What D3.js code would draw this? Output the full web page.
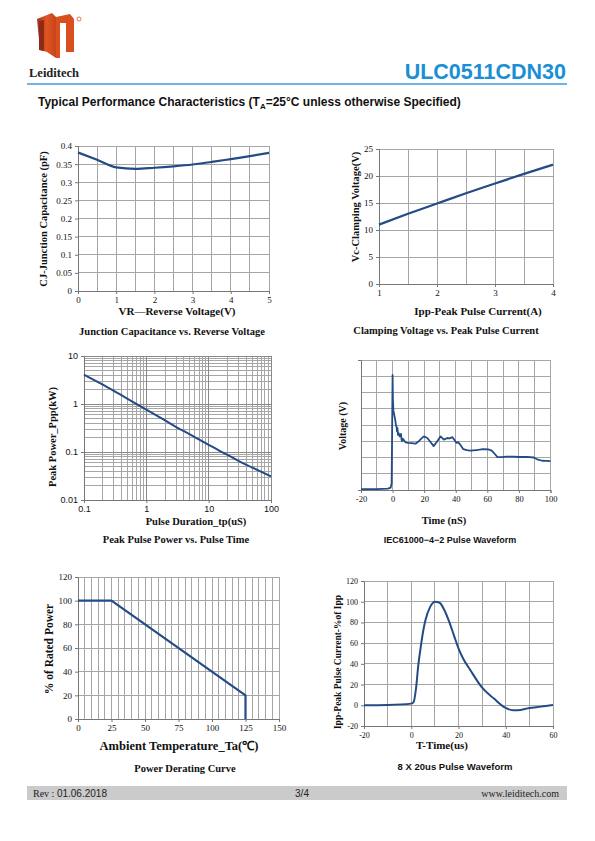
<!DOCTYPE html>
<html><head><meta charset="utf-8">
<script src="https://cdn.jsdelivr.net/npm/d3@7"></script>
<style>
body{margin:0;background:#fff;}
svg{display:block;}
.serif{font-family:"Liberation Serif","Times New Roman",serif;}
.sans{font-family:"Liberation Sans",Arial,sans-serif;}
</style></head>
<body>
<svg id="page" width="595" height="841"></svg>
<script>
// ---------------- DATA ----------------
// Chart 1: Junction capacitance vs reverse voltage
const capVoltage = [0, 0.5, 1, 1.5, 2, 2.5, 3, 3.5, 4, 4.5, 5];
const capValue   = [0.382, 0.362, 0.341, 0.337, 0.340, 0.344, 0.349, 0.356, 0.364, 0.372, 0.381];
const capXTicks = [0, 1, 2, 3, 4, 5];
const capYTicks = [0, 0.05, 0.1, 0.15, 0.2, 0.25, 0.3, 0.35, 0.4];

// Chart 2: Clamping voltage vs peak pulse current
const clampCurrent = [1, 1.5, 2, 2.5, 3, 3.5, 4];
const clampVoltage = [11.0, 13.0, 14.9, 16.8, 18.6, 20.4, 22.1];
const clampXTicks = [1, 2, 3, 4];
const clampYTicks = [0, 5, 10, 15, 20, 25];

// Chart 3: Peak pulse power vs pulse time (log-log)
const pulseTime  = [0.1, 0.2, 0.316, 0.5, 1, 2, 3.16, 5, 10, 20, 31.6, 50, 100];
const pulsePower = [4.1, 2.52, 1.82, 1.28, 0.76, 0.454, 0.32, 0.233, 0.14, 0.087, 0.063, 0.0475, 0.031];
const ppXTicks = [0.1, 1, 10, 100];
const ppYTicks = [0.01, 0.1, 1, 10];

// Chart 4: IEC61000-4-2 pulse waveform (arbitrary voltage units, 8 grid divisions)
const esdTime  = [-20, -10, -3, -1.2, -0.6, -0.3, 0, 0.2, 0.5, 0.9, 1.3, 1.7, 2.1, 2.5, 2.8, 3.1, 3.4, 3.8, 4.5, 5.0, 5.3, 5.7, 6.0, 6.5, 7.0, 8.0, 9.0, 10, 12, 14.5, 16.6, 18, 19.8, 22, 24, 26, 28.3, 30.4, 32.5, 34.7, 36, 37.9, 39.4, 40.4, 41.5, 43, 44.7, 47, 49, 51, 53.2, 55, 57.4, 60.6, 62.8, 64.9, 66.4, 69.1, 72, 76.6, 80, 85, 89.4, 91.5, 94.7, 97, 100];
const esdVolt  = [0.05, 0.06, 0.08, 0.15, 0.4, 3.5, 7.08, 5.6, 4.9, 4.7, 4.5, 4.3, 4.0, 3.9, 3.6, 3.8, 3.4, 3.5, 3.3, 3.35, 3.45, 3.1, 3.0, 3.15, 3.1, 2.95, 2.92, 2.9, 2.88, 2.85, 3.0, 3.15, 3.3, 3.2, 2.95, 2.7, 3.0, 3.3, 3.1, 3.2, 3.18, 3.25, 3.05, 2.9, 2.95, 2.77, 2.52, 2.45, 2.42, 2.44, 2.46, 2.48, 2.52, 2.5, 2.42, 2.2, 2.02, 2.02, 2.05, 2.05, 2.03, 2.04, 2.0, 1.89, 1.8, 1.79, 1.78];
const esdXTicks = [-20, 0, 20, 40, 60, 80, 100];

// Chart 5: Power derating curve
const derateTemp  = [0, 25, 125, 125];
const deratePower = [100, 100, 20, 0];
const derateXTicks = [0, 25, 50, 75, 100, 125, 150];
const derateYTicks = [0, 20, 40, 60, 80, 100, 120];

// Chart 6: 8 x 20us pulse waveform
const surgeTime    = [-20, -10, 0, 1, 2, 3, 4, 5, 6, 8, 10, 12, 14, 16, 18, 20, 22, 25, 30, 35, 40, 43, 45, 50, 55, 60];
const surgeCurrent = [0, 0.3, 1.6, 3, 16, 39, 56, 71, 82, 95, 100, 99, 92, 81, 68, 55, 45, 34, 17, 6.5, -2.6, -4.8, -4.8, -2.6, -1.3, 0.3];
const surgeXTicks = [-20, 0, 20, 40, 60];
const surgeYTicks = [-20, 0, 20, 40, 60, 80, 100, 120];

// ---------------- DRAW ----------------
const svg = d3.select("#page");
const LINE = "#234b85";
const GRID = "#a6a6a6";

// Header
const logo = svg.append("g");
const grad = svg.append("defs").append("linearGradient").attr("id","lg").attr("x1","0").attr("x2","1");
grad.append("stop").attr("offset","0").attr("stop-color","#a8321e");
grad.append("stop").attr("offset","0.5").attr("stop-color","#e0551f");
grad.append("stop").attr("offset","1").attr("stop-color","#c9421c");
logo.append("path").attr("fill","url(#lg)")
  .attr("d","M37,19 L52,13 L56,17 L56,58 L47,52 L40,50 Z");
logo.append("path").attr("fill","#d9501e")
  .attr("d","M56,17 L70,14 L74,19 L74,52 L66,52 L66,23 L60,23 L60,58 L56,58 Z");
logo.append("path").attr("fill","#8e2a18").attr("d","M39,21 L44,20 L44,51 L39,50 Z");
logo.append("circle").attr("cx",79).attr("cy",19).attr("r",2).attr("fill","none").attr("stroke","#e0551f").attr("stroke-width",0.8);
svg.append("text").attr("class","serif").attr("x",29).attr("y",77).attr("font-size",12.5).attr("font-weight","bold").attr("fill","#222").text("Leiditech");
svg.append("text").attr("class","sans").attr("x",566).attr("y",78.5).attr("text-anchor","end")
  .attr("font-size",21.5).attr("font-weight","bold").attr("fill","#1a8fd3").text("ULC0511CDN30");
svg.append("line").attr("x1",27).attr("x2",567).attr("y1",84).attr("y2",84).attr("stroke","#3c9be0").attr("stroke-width",1.3);
const sub = svg.append("text").attr("class","sans").attr("x",38).attr("y",106).attr("font-size",12).attr("font-weight","bold").attr("fill","#111");
sub.append("tspan").text("Typical Performance Characteristics (T");
sub.append("tspan").attr("font-size",8).attr("dy",3).text("A");
sub.append("tspan").attr("dy",-3).text("=25°C unless otherwise Specified)");

// Footer
svg.append("rect").attr("x",27).attr("y",786).attr("width",540).attr("height",14).attr("fill","#cbcbcb");
const rev = svg.append("text").attr("x",33).attr("y",797).attr("font-size",10).attr("fill","#222");
rev.append("tspan").attr("class","serif").text("Rev : ");
rev.append("tspan").attr("class","sans").text("01.06.2018");
svg.append("text").attr("class","sans").attr("x",302).attr("y",797).attr("text-anchor","middle").attr("font-size",10).attr("fill","#222").text("3/4");
svg.append("text").attr("class","serif").attr("x",559).attr("y",797).attr("text-anchor","end").attr("font-size",10).attr("fill","#222").text("www.leiditech.com");

function text(g, x, y, str, o) {
  const t = g.append("text").attr("x",x).attr("y",y).text(str)
    .attr("class", o.cls || "serif").attr("font-size", o.size || 9)
    .attr("font-weight", o.bold ? "bold" : "normal").attr("fill","#111")
    .attr("text-anchor", o.anchor || "middle");
  if (o.rot) t.attr("transform", `rotate(-90,${x},${y})`);
  return t;
}

function linearChart(c) {
  const g = svg.append("g");
  const x = d3.scaleLinear().domain(c.xDomain).range([c.left, c.right]);
  const y = d3.scaleLinear().domain(c.yDomain).range([c.bottom, c.top]);
  g.append("g").selectAll("line").data(c.xGrid).join("line")
    .attr("x1",d=>x(d)).attr("x2",d=>x(d)).attr("y1",c.top).attr("y2",c.bottom)
    .attr("stroke",GRID).attr("stroke-width",1).attr("shape-rendering","crispEdges");
  g.append("g").selectAll("line").data(c.yGrid).join("line")
    .attr("x1",c.left).attr("x2",c.right).attr("y1",d=>y(d)).attr("y2",d=>y(d))
    .attr("stroke",GRID).attr("stroke-width",1).attr("shape-rendering","crispEdges");
  const xa = d3.axisBottom(x).tickValues(c.xTicks).tickSize(3).tickFormat(d=>d);
  const ya = d3.axisLeft(y).tickValues(c.yTicks || []).tickSize(3).tickFormat(d=>d);
  const gx = g.append("g").attr("transform",`translate(0,${c.bottom})`).call(xa);
  const gy = g.append("g").attr("transform",`translate(${c.left},0)`).call(ya);
  [gx,gy].forEach(a=>{
    a.select(".domain").attr("stroke","#777");
    a.selectAll(".tick line").attr("stroke","#777");
    a.selectAll("text").attr("font-family","Liberation Serif").attr("font-size",c.tickSize2||9).attr("fill","#111");
  });
  const pts = c.xs.map((v,i)=>[v,c.ys[i]]);
  const ln = d3.line().x(d=>x(d[0])).y(d=>y(d[1])).curve(c.curve || d3.curveLinear);
  g.append("path").datum(pts).attr("d",ln).attr("fill","none").attr("stroke",LINE)
    .attr("stroke-width",c.lw||2).attr("stroke-linejoin","round");
  return {g,x,y};
}

// Chart 1
{
  linearChart({left:78,right:269,top:146,bottom:291,xDomain:[0,5],yDomain:[0,0.4],
    xGrid:d3.range(0,5.01,0.5),yGrid:capYTicks,xTicks:capXTicks,yTicks:capYTicks,
    xs:capVoltage,ys:capValue,curve:d3.curveMonotoneX,lw:2.2});
  text(svg,177,315,"VR—Reverse Voltage(V)",{bold:true,size:11});
  text(svg,47,219,"CJ-Junction Capacitance (pF)",{bold:true,size:10.5,rot:true});
  text(svg,172,335,"Junction Capacitance vs. Reverse Voltage",{bold:true,size:10.5});
}
// Chart 2
{
  linearChart({left:379,right:553,top:149,bottom:284,xDomain:[1,4],yDomain:[0,25],
    xGrid:d3.range(1,4.01,0.5),yGrid:clampYTicks,xTicks:clampXTicks,yTicks:clampYTicks,
    xs:clampCurrent,ys:clampVoltage,curve:d3.curveMonotoneX,lw:2.2});
  text(svg,478,315,"Ipp-Peak Pulse Current(A)",{bold:true,size:11});
  text(svg,359,207,"Vc-Clamping Voltage(V)",{bold:true,size:10.5,rot:true});
  text(svg,446,334,"Clamping Voltage vs. Peak Pulse Current",{bold:true,size:10.5});
}
// Chart 3 (log-log)
{
  const left=84,right=271,top=356,bottom=500;
  const g = svg.append("g");
  const x = d3.scaleLog().domain([0.1,100]).range([left,right]);
  const y = d3.scaleLog().domain([0.01,10]).range([bottom,top]);
  const minors = (a,b)=>{const r=[];for(let d=a;d<b*0.999;d*=10)for(let k=1;k<10;k++)r.push(d*k);r.push(b);return r;};
  g.append("g").selectAll("line").data(minors(0.1,100)).join("line")
    .attr("x1",d=>x(d)).attr("x2",d=>x(d)).attr("y1",top).attr("y2",bottom)
    .attr("stroke",GRID).attr("stroke-width",1).attr("shape-rendering","crispEdges");
  g.append("g").selectAll("line").data(minors(0.01,10)).join("line")
    .attr("x1",left).attr("x2",right).attr("y1",d=>y(d)).attr("y2",d=>y(d))
    .attr("stroke",GRID).attr("stroke-width",1).attr("shape-rendering","crispEdges");
  g.append("g").selectAll("line").data(ppXTicks).join("line")
    .attr("x1",d=>x(d)).attr("x2",d=>x(d)).attr("y1",top).attr("y2",bottom)
    .attr("stroke","#888").attr("stroke-width",1).attr("shape-rendering","crispEdges");
  g.append("g").selectAll("line").data(ppYTicks).join("line")
    .attr("x1",left).attr("x2",right).attr("y1",d=>y(d)).attr("y2",d=>y(d))
    .attr("stroke","#888").attr("stroke-width",1).attr("shape-rendering","crispEdges");
  const gx = g.append("g").attr("transform",`translate(0,${bottom})`).call(d3.axisBottom(x).tickValues(ppXTicks).tickSize(3).tickFormat(d=>d));
  const gy = g.append("g").attr("transform",`translate(${left},0)`).call(d3.axisLeft(y).tickValues(ppYTicks).tickSize(3).tickFormat(d=>d));
  [gx,gy].forEach(a=>{
    a.select(".domain").attr("stroke","#777");
    a.selectAll(".tick line").attr("stroke","#777");
    a.selectAll("text").attr("font-family","Liberation Sans").attr("font-size",9).attr("fill","#111");
  });
  const pts = pulseTime.map((v,i)=>[v,pulsePower[i]]);
  g.append("path").datum(pts).attr("d",d3.line().x(d=>x(d[0])).y(d=>y(d[1])).curve(d3.curveMonotoneX))
    .attr("fill","none").attr("stroke",LINE).attr("stroke-width",2);
  text(svg,196,525,"Pulse Duration_tp(uS)",{bold:true,size:10.5});
  text(svg,56,437,"Peak  Power_Ppp(kW)",{bold:true,size:10.5,rot:true});
  text(svg,176,543,"Peak Pulse Power vs. Pulse Time",{bold:true,size:10.5});
}
// Chart 4
{
  linearChart({left:361,right:550.5,top:360,bottom:490,xDomain:[-20,100],yDomain:[0,8],
    xGrid:d3.range(-20,100.1,10),yGrid:d3.range(0,8.1,1),xTicks:esdXTicks,yTicks:[],
    xs:esdTime,ys:esdVolt,lw:1.8,tickSize2:8.5});
  text(svg,444,524,"Time  (nS)",{bold:true,size:10.5});
  text(svg,346,426,"Voltage (V)",{bold:true,size:10,rot:true});
  text(svg,450,543,"IEC61000−4−2 Pulse Waveform",{cls:"sans",bold:true,size:9});
}
// Chart 5
{
  linearChart({left:78,right:279,top:577,bottom:719,xDomain:[0,150],yDomain:[0,120],
    xGrid:d3.range(0,150.1,5),yGrid:derateYTicks,xTicks:derateXTicks,yTicks:derateYTicks,
    xs:derateTemp,ys:deratePower,lw:2.2});
  text(svg,179,750,"Ambient  Temperature_Ta(℃)",{bold:true,size:12.5});
  text(svg,53,649,"% of Rated Power",{bold:true,size:11.5,rot:true});
  text(svg,185,772,"Power Derating Curve",{bold:true,size:10.5});
}
// Chart 6
{
  linearChart({left:364,right:553,top:581,bottom:726,xDomain:[-20,60],yDomain:[-20,120],
    xGrid:surgeXTicks.concat([-10,10,30,50]),yGrid:surgeYTicks,xTicks:surgeXTicks,yTicks:surgeYTicks,
    xs:surgeTime,ys:surgeCurrent,curve:d3.curveMonotoneX,lw:2,tickSize2:8});
  text(svg,442,749,"T-Time(us)",{bold:true,size:11});
  text(svg,341,662,"Ipp-Peak Pulse Current-%of Ipp",{bold:true,size:9.5,rot:true});
  text(svg,455,770,"8 X 20us Pulse Waveform",{cls:"sans",bold:true,size:9.5});
}
</script>
</body></html>
